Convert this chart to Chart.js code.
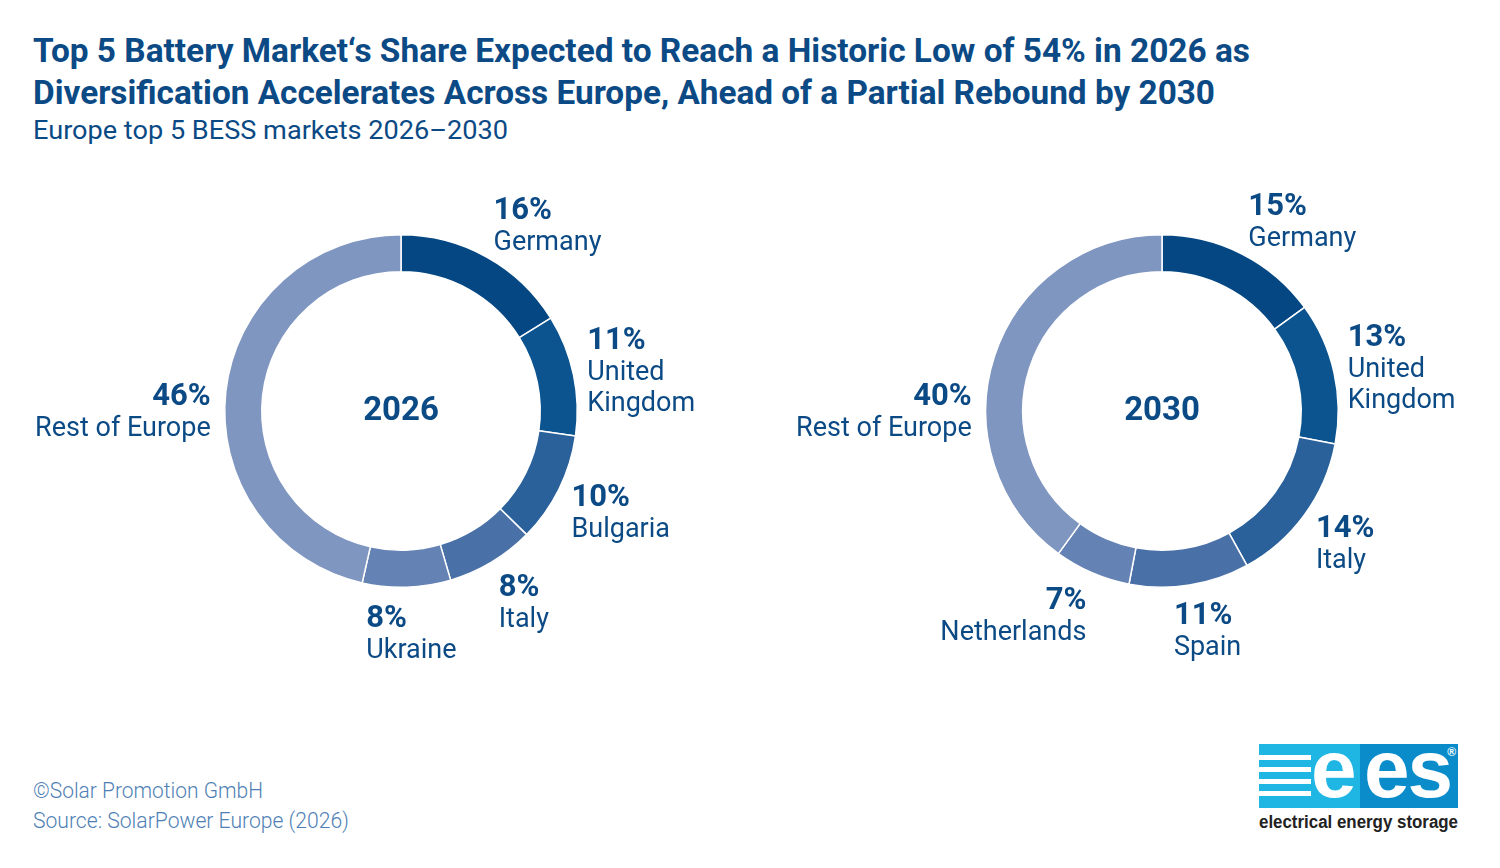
<!DOCTYPE html>
<html>
<head>
<meta charset="utf-8">
<script src="https://cdn.jsdelivr.net/npm/chart.js@4.4.1/dist/chart.umd.min.js"></script>
<style>
  html, body { margin: 0; padding: 0; background: #fff; }
  body { width: 1500px; height: 868px; position: relative; overflow: hidden; font-family: Roboto, "Open Sans", sans-serif; color: #0b4a85; }
  .fit { position: absolute; white-space: nowrap; transform-origin: 0 0; line-height: 1; }
  #t1, #t2 { font-weight: 700; font-size: 33px; left: 33px; }
  #t1 { top: 34px; }
  #t2 { top: 76px; }
  #sub { font-size: 25px; left: 33px; top: 118px; }
  .foot { font-size: 22px; font-weight: 300; color: #4f7fb5; left: 33px; }
  #f1 { top: 780px; }
  #f2 { top: 810px; }
  canvas { position: absolute; }
  #c2026 { left: 0; top: 150px; }
  #c2030 { left: 762px; top: 150px; }
  #logo { position: absolute; left: 1259px; top: 744px; width: 199px; height: 64px; font-family: "Liberation Sans", Arial, sans-serif; }
  #logo .lt { position: absolute; left: 0; top: 0; width: 101px; height: 64px; background: #1fb6e4; overflow: hidden; }
  #logo .dk { position: absolute; left: 101px; top: 0; width: 98px; height: 64px; background: #0a8cca; overflow: hidden; }
  #logo .bar { position: absolute; left: 0; width: 52px; height: 5px; background: #fff; }
  #logo .e { position: absolute; color: #fff; font-weight: 700; font-size: 82px; line-height: 1; top: -16px; letter-spacing: -2px; }
  #logo sup { position: absolute; right: 2px; top: 1px; color: #fff; font-size: 12px; font-weight: 700; }
  #tag { font-family: "Liberation Sans", Arial, sans-serif; font-weight: 700; font-size: 18px; color: #222; left: 1259px; top: 813px; }
</style>
</head>
<body>
<div id="t1" class="fit" data-w="1217">Top 5 Battery Market‘s Share Expected to Reach a Historic Low of 54% in 2026 as</div>
<div id="t2" class="fit" data-w="1182">Diversification Accelerates Across Europe, Ahead of a Partial Rebound by 2030</div>
<div id="sub" class="fit" data-w="475">Europe top 5 BESS markets 2026–2030</div>

<canvas id="c2026" width="802" height="522"></canvas>
<canvas id="c2030" width="800" height="522"></canvas>

<div id="f1" class="fit foot" data-w="230">©Solar Promotion GmbH</div>
<div id="f2" class="fit foot" data-w="316">Source: SolarPower Europe (2026)</div>

<div id="logo">
  <div class="lt">
    <div class="bar" style="top:11px"></div>
    <div class="bar" style="top:23px"></div>
    <div class="bar" style="top:35px"></div>
    <div class="bar" style="top:47px"></div>
    <span class="e" style="left:52px">e</span>
  </div>
  <div class="dk">
    <span class="e" style="left:4px">es</span>
    <sup>®</sup>
  </div>
</div>
<div id="tag" class="fit" data-w="199">electrical energy storage</div>

<script>
// ---- data ----
const markets2026 = ['Germany', 'United\nKingdom', 'Bulgaria', 'Italy', 'Ukraine', 'Rest of Europe'];
const shares2026 = [16, 11, 10, 8, 8, 46];
const markets2030 = ['Germany', 'United\nKingdom', 'Italy', 'Spain', 'Netherlands', 'Rest of Europe'];
const shares2030 = [15, 13, 14, 11, 7, 40];
const sliceColors = ['#044783', '#0b5490', '#2a619b', '#4a71a7', '#6482b4', '#7f96c0'];

const TEXT = '#0b4a85';
const FONT = 'Roboto, "Open Sans", sans-serif';

// stretch HTML text lines to the measured widths
document.querySelectorAll('.fit[data-w]').forEach(el => {
    const w = el.getBoundingClientRect().width;
    el.style.transform = 'scaleX(' + (parseFloat(el.dataset.w) / w) + ')';
});

const clamp = (v, a, b) => Math.max(a, Math.min(b, v));

// labels outside of each slice + year in the middle
const donutLabels = {
    id: 'donutLabels',
    afterDraw(chart, args, opts) {
        const ctx = chart.ctx;
        const meta = chart.getDatasetMeta(0);
        const values = chart.data.datasets[0].data;
        const total = values.reduce((a, b) => a + b, 0);
        let cx = 0, cy = 0;

        meta.data.forEach((arc, i) => {
            const p = arc.getProps(['x', 'y', 'startAngle', 'endAngle', 'outerRadius'], true);
            cx = p.x; cy = p.y;
            const mid = (p.startAngle + p.endAngle) / 2;
            const r = p.outerRadius + opts.gap;
            const s = Math.cos(mid), c = -Math.sin(mid);
            let ax = p.x + s * r, ay = p.y - c * r;
            let xf = clamp(0.5 - s * 1.5, 0, 1);
            let yf = clamp(0.42 + c * 0.45, -0.1, 1);
            // big slice: label sits level with the centre
            if (values[i] / total > 0.3) {
                ax = p.x + (s < 0 ? -1 : 1) * r;
                ay = p.y;
                xf = s < 0 ? 1 : 0;
                yf = 0.5;
            }
            const names = chart.data.labels[i].split('\n');
            const pct = values[i] + '%';
            ctx.save();
            ctx.fillStyle = TEXT;
            ctx.font = '700 31px ' + FONT;
            let w = ctx.measureText(pct).width;
            ctx.font = '400 27px ' + FONT;
            names.forEach(n => { w = Math.max(w, ctx.measureText(n).width); });
            const h = 24 + 31 * names.length + 6;
            const left = ax - w * xf;
            const top = ay - h * yf;
            const right = xf >= 0.75;
            ctx.textAlign = right ? 'right' : 'left';
            ctx.textBaseline = 'alphabetic';
            const tx = right ? left + w : left;
            ctx.font = '700 31px ' + FONT;
            ctx.fillText(pct, tx, top + 24);
            ctx.font = '400 27px ' + FONT;
            names.forEach((n, k) => ctx.fillText(n, tx, top + 24 + 31 * (k + 1)));
            ctx.restore();
        });

        ctx.save();
        ctx.fillStyle = TEXT;
        ctx.font = '700 33px ' + FONT;
        ctx.textAlign = 'center';
        ctx.textBaseline = 'middle';
        ctx.fillText(opts.year, cx, cy + 1);
        ctx.restore();
    }
};

function makeDonut(id, year, labels, values, padX) {
    new Chart(document.getElementById(id), {
        type: 'doughnut',
        data: {
            labels: labels,
            datasets: [{
                data: values,
                backgroundColor: sliceColors,
                borderColor: '#ffffff',
                borderWidth: 1.5
            }]
        },
        options: {
            responsive: false,
            animation: false,
            cutout: '79%',
            layout: { padding: { left: padX, right: padX, top: 84, bottom: 84 } },
            plugins: {
                legend: { display: false },
                tooltip: { enabled: false },
                donutLabels: { year: year, gap: 14 }
            }
        },
        plugins: [donutLabels]
    });
}

makeDonut('c2026', '2026', markets2026, shares2026, 224);
makeDonut('c2030', '2030', markets2030, shares2030, 223);
</script>
</body>
</html>
